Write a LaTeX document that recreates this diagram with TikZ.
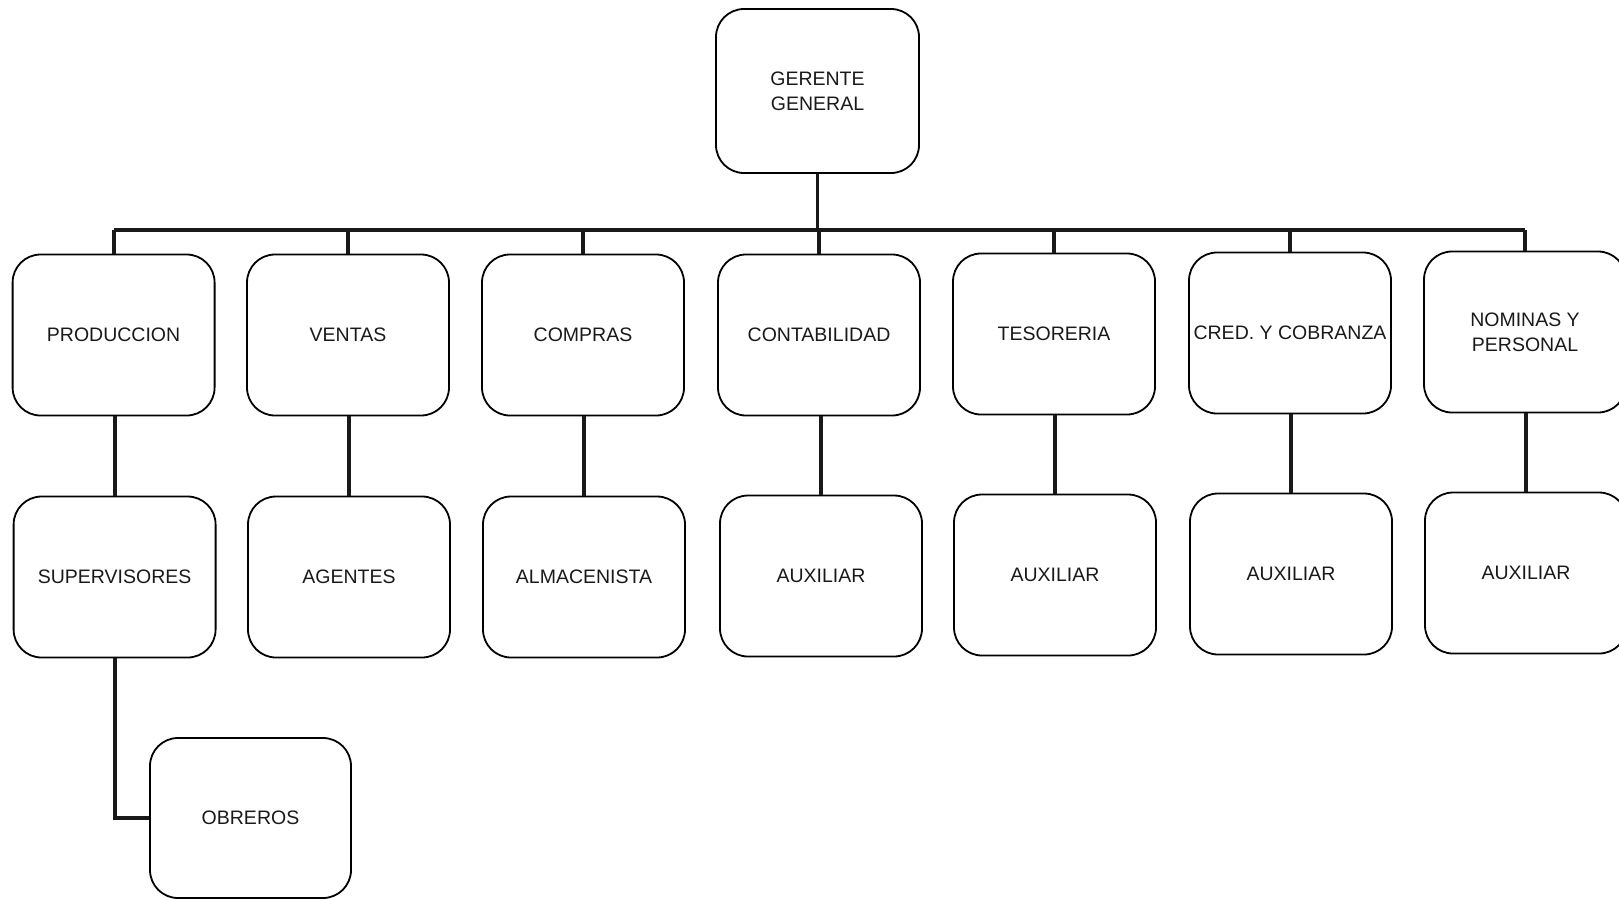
\documentclass[tikz,border=0pt]{standalone}
\usepackage{fontspec}
\setmainfont{Liberation Sans}
\begin{document}
\begin{tikzpicture}[x=1pt,y=-1pt,
  orgbox/.style={draw=black, line width=1.8pt, rounded corners=28pt, minimum width=202pt, minimum height=161pt, align=center, inner sep=0pt, font=\fontsize{19.5}{25}\selectfont, text=black!90},
  link/.style={draw=black!90, line width=3.8pt}]
\useasboundingbox (0,0) rectangle (1619,898);
\node[orgbox, minimum width=203pt, minimum height=164pt] (g) at (817.5,91) {GERENTE\\GENERAL};
% row 1
\node[orgbox] (p1) at (113.6,335) {PRODUCCION};
\node[orgbox] (p2) at (348,335) {VENTAS};
\node[orgbox] (p3) at (583,335) {COMPRAS};
\node[orgbox] (p4) at (819,335) {CONTABILIDAD};
\node[orgbox] (p5) at (1054,334) {TESORERIA};
\node[orgbox] (p6) at (1290,333) {CRED. Y COBRANZA};
\node[orgbox] (p7) at (1525,332) {NOMINAS Y\\PERSONAL};
% row 2
\node[orgbox] (s1) at (114.6,577) {SUPERVISORES};
\node[orgbox] (s2) at (349,577) {AGENTES};
\node[orgbox] (s3) at (584,577) {ALMACENISTA};
\node[orgbox] (s4) at (821,576) {AUXILIAR};
\node[orgbox] (s5) at (1055,575) {AUXILIAR};
\node[orgbox] (s6) at (1291,574) {AUXILIAR};
\node[orgbox] (s7) at (1526,573) {AUXILIAR};
% row 3
\node[orgbox, minimum width=201pt, minimum height=160pt] (o) at (250.5,818) {OBREROS};
% bus
\coordinate (busL) at (113.6,230);
\coordinate (busR) at (1525,230);
\draw[link] (busL) -- (busR);
\draw[link] (g.south) -- (g.south |- busL);
\foreach \i in {1,...,7} {
  \draw[link] (p\i.north) -- (p\i.north |- busL);
  \draw[link] (s\i.north |- p\i.south) -- (s\i.north);
}
\draw[link] (s1.south) |- (o.west);
\end{tikzpicture}
\end{document}
